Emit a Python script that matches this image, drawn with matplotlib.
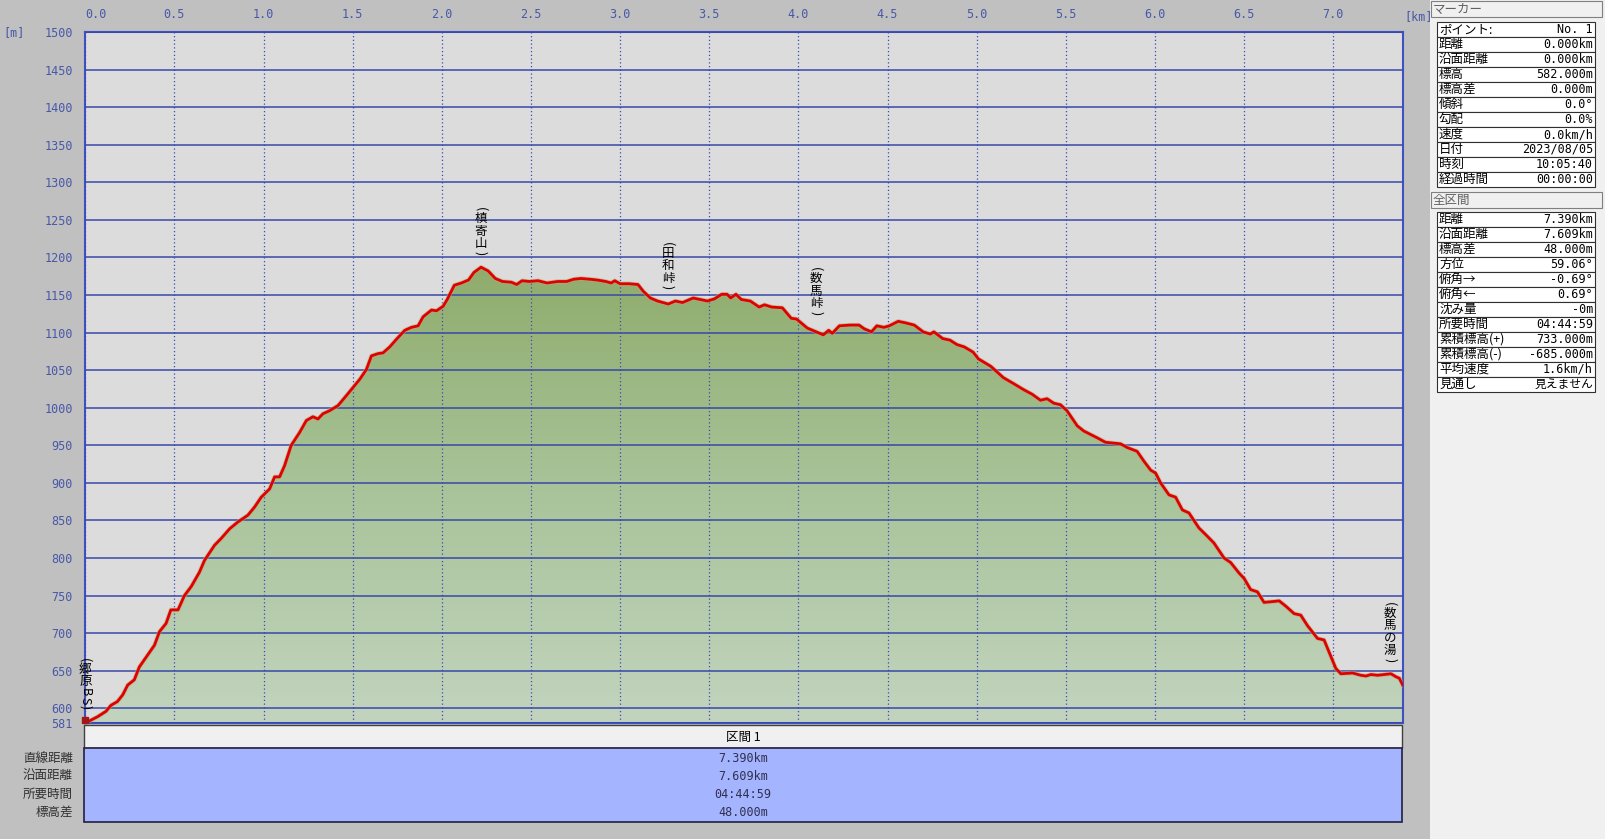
import numpy as np
import matplotlib.pyplot as plt
from matplotlib.colors import LinearSegmentedColormap
from matplotlib.patches import Rectangle, Polygon

plt.rcParams['font.family'] = ['Noto Sans CJK JP', 'DejaVu Sans']
MONO = ['DejaVu Sans Mono', 'Noto Sans CJK JP']

# elevation profile (km, m)
dist_km = [0.0, 0.013, 0.07, 0.116, 0.144, 0.18, 0.21, 0.238, 0.275, 0.303, 0.35, 0.388,
           0.416, 0.453, 0.48, 0.52, 0.556, 0.594, 0.64, 0.669, 0.725, 0.762, 0.81, 0.856,
           0.912, 0.95, 0.987, 1.034, 1.062, 1.09, 1.118, 1.155, 1.202, 1.24, 1.277, 1.305,
           1.333, 1.37, 1.418, 1.464, 1.502, 1.54, 1.577, 1.605, 1.642, 1.67, 1.708, 1.745,
           1.792, 1.83, 1.867, 1.895, 1.942, 1.97, 2.007, 2.03, 2.07, 2.11, 2.15, 2.18,
           2.22, 2.26, 2.30, 2.34, 2.39, 2.42, 2.45, 2.49, 2.54, 2.59, 2.65, 2.70,
           2.74, 2.78, 2.83, 2.87, 2.92, 2.95, 2.97, 3.00, 3.05, 3.10, 3.13, 3.17,
           3.21, 3.27, 3.31, 3.35, 3.41, 3.45, 3.49, 3.53, 3.57, 3.60, 3.62, 3.65,
           3.68, 3.73, 3.78, 3.81, 3.85, 3.91, 3.96, 3.99, 4.05, 4.10, 4.14, 4.17,
           4.19, 4.23, 4.29, 4.34, 4.37, 4.41, 4.44, 4.48, 4.51, 4.56, 4.60, 4.65,
           4.70, 4.74, 4.76, 4.81, 4.85, 4.89, 4.93, 4.98, 5.01, 5.08, 5.15, 5.208,
           5.264, 5.311, 5.358, 5.395, 5.433, 5.47, 5.507, 5.564, 5.601, 5.676, 5.723, 5.807,
           5.845, 5.90, 5.938, 5.976, 6.004, 6.032, 6.079, 6.116, 6.154, 6.191, 6.247, 6.294,
           6.331, 6.388, 6.425, 6.472, 6.50, 6.537, 6.575, 6.612, 6.659, 6.697, 6.734, 6.781,
           6.818, 6.856, 6.912, 6.949, 6.987, 7.015, 7.043, 7.109, 7.155, 7.184, 7.212, 7.249,
           7.286, 7.324, 7.352, 7.371, 7.39]
elev_m = [582, 582, 589, 596, 604, 609, 618, 631, 638, 655, 671, 684,
          702, 713, 731, 731, 750, 762, 781, 797, 817, 826, 839, 848,
          857, 868, 881, 892, 908, 908, 923, 950, 967, 983, 988, 985,
          992, 996, 1003, 1016, 1027, 1038, 1051, 1069, 1072, 1073, 1081, 1091,
          1103, 1107, 1109, 1121, 1130, 1129, 1135, 1144, 1163, 1166, 1170, 1180,
          1187, 1182, 1172, 1168, 1167, 1164, 1169, 1168, 1169, 1166, 1168, 1168,
          1171, 1172, 1171, 1170, 1168, 1166, 1169, 1165, 1165, 1164, 1155, 1146,
          1142, 1138, 1142, 1140, 1146, 1144, 1142, 1145, 1151, 1151, 1146, 1151,
          1144, 1142, 1134, 1137, 1134, 1133, 1119, 1118, 1106, 1101, 1097, 1103,
          1099, 1109, 1110, 1110, 1105, 1101, 1109, 1107, 1109, 1115, 1113, 1110,
          1101, 1098, 1101, 1092, 1090, 1084, 1081, 1074, 1065, 1055, 1040, 1032,
          1024, 1018, 1010, 1012, 1006, 1004, 996, 976, 969, 960, 954, 952,
          947, 942, 929, 917, 913, 900, 884, 881, 864, 860, 840, 829,
          820, 800, 794, 780, 773, 758, 755, 741, 742, 743, 736, 726,
          724, 710, 693, 691, 669, 653, 646, 647, 644, 643, 645, 644,
          645, 646, 642, 640, 631]

x_ticks = [0.0, 0.5, 1.0, 1.5, 2.0, 2.5, 3.0, 3.5, 4.0, 4.5, 5.0, 5.5, 6.0, 6.5, 7.0]
y_ticks = [581] + list(range(600, 1501, 50))

places = ['(郷原BS)', '(槙寄山)', '(田和峠)', '(数馬峠)', '(数馬の湯)']
place_km = [0.0, 2.217, 3.268, 4.10, 7.32]
place_top = [668, 1268, 1222, 1188, 743]

marker_labels = ['ポイント:', '距離', '沿面距離', '標高', '標高差', '傾斜', '勾配', '速度',
                 '日付', '時刻', '経過時間']
marker_values = ['No. 1', '0.000km', '0.000km', '582.000m', '0.000m', '0.0°', '0.0%',
                 '0.0km/h', '2023/08/05', '10:05:40', '00:00:00']
total_labels = ['距離', '沿面距離', '標高差', '方位', '俯角→', '俯角←', '沈み量', '所要時間',
                '累積標高(+)', '累積標高(-)', '平均速度', '見通し']
total_values = ['7.390km', '7.609km', '48.000m', '59.06°', '-0.69°', '0.69°', '-0m',
                '04:44:59', '733.000m', '-685.000m', '1.6km/h', '見えません']
section_labels = ['直線距離', '沿面距離', '所要時間', '標高差']
section_values = ['7.390km', '7.609km', '04:44:59', '48.000m']

W, H = 1605, 839
fig = plt.figure(figsize=(W / 100, H / 100), dpi=100, facecolor='#c0c0c0')

# background layer in pixel coordinates (panels, tables)
bg = fig.add_axes([0, 0, 1, 1])
bg.set_xlim(0, W)
bg.set_ylim(H, 0)
bg.axis('off')
bg.set_zorder(0)

# right panel
bg.add_patch(Rectangle((1430, 0), W - 1430, H, fc='#f0f0f0', ec='none'))
for top, title in [(1, 'マーカー'), (192, '全区間')]:
    bg.add_patch(Rectangle((1431, top), 171, 16, fc='#f0f0f0', ec='#808080', lw=0.8))
    bg.text(1433, top + 8, title, fontsize=9, color='#606060', va='center', ha='left')


def draw_table(top, labels, values, rh=15.0):
    for i, (lab, val) in enumerate(zip(labels, values)):
        y = top + i * rh
        bg.add_patch(Rectangle((1437, y), 158, rh, fc='white', ec='#303030', lw=0.8))
        bg.text(1439, y + rh / 2, lab, fontsize=9, va='center', ha='left', color='black')
        bg.text(1593, y + rh / 2, val, fontsize=8.5, family=MONO, va='center', ha='right',
                color='black')


draw_table(22, marker_labels, marker_values)
draw_table(212, total_labels, total_values)

# bottom section table
bg.add_patch(Rectangle((84, 725), 1318, 23, fc='#f0f0f0', ec='#404040', lw=1))
bg.add_patch(Rectangle((84, 748), 1318, 74, fc='#a4b4ff', ec='#202040', lw=1.2))
bg.text(743, 737, '区間 1', fontsize=9, ha='center', va='center', color='black')
for i, (lab, val) in enumerate(zip(section_labels, section_values)):
    y = 758 + i * 18
    bg.text(73, y, lab, fontsize=9, ha='right', va='center', color='#303030')
    bg.text(743, y, val, fontsize=8.5, family=MONO, ha='center', va='center', color='#303050')

bg.text(3, 33, '[m]', fontsize=8.5, family=MONO, color='#4858a8', va='center', ha='left')
bg.text(1404, 17, '[km]', fontsize=8.5, family=MONO, color='#4858a8', va='center', ha='left')

# main profile axes
x0, x1, y0, y1 = 85.3, 1402.7, 32.0, 722.6
ax = fig.add_axes([x0 / W, (H - y1) / H, (x1 - x0) / W, (y1 - y0) / H])
ax.set_zorder(2)
ax.set_facecolor('#dcdcdc')

cmap = LinearSegmentedColormap.from_list('fill', ['#c2d4be', '#a9c49a', '#8fac6c'])
grad = np.linspace(0, 1, 256).reshape(-1, 1)
img = ax.imshow(grad, extent=[0, 7.39, 581, 1190], origin='lower', aspect='auto',
                cmap=cmap, zorder=1)
verts = np.column_stack([np.r_[dist_km[0], dist_km, dist_km[-1]],
                         np.r_[581, elev_m, 581]])
poly = Polygon(verts, closed=True, fc='none', ec='none')
ax.add_patch(poly)
img.set_clip_path(poly)

ax.plot(dist_km, elev_m, color='#b8a878', lw=3.2, alpha=0.6, zorder=2.6)
ax.plot(dist_km, elev_m, color='#e00000', lw=2.0, zorder=3)
ax.plot([dist_km[0]], [elev_m[0] + 3], marker='s', ms=5, color='#a01818', clip_on=False,
        zorder=4)

ax.set_xlim(0, 7.39)
ax.set_ylim(581, 1500)
ax.set_xticks(x_ticks)
ax.set_xticklabels([f'{v:.1f}' for v in x_ticks])
ax.set_yticks(y_ticks)
ax.set_yticklabels([str(v) for v in y_ticks])
ax.xaxis.tick_top()
ax.tick_params(axis='x', length=0, pad=8, labelsize=8.5, labelcolor='#4858a8')
ax.tick_params(axis='y', length=0, pad=9, labelsize=8.5, labelcolor='#4858a8')
for lab in ax.get_xticklabels() + ax.get_yticklabels():
    lab.set_family(MONO)
ax.get_xticklabels()[0].set_horizontalalignment('left')

ax.set_axisbelow(False)
ax.xaxis.grid(True, ls=(0, (1, 2)), color='#3a4ab8', lw=0.9)
ax.yaxis.grid(True, ls='-', color='#3848a8', lw=1.1)
for sp in ax.spines.values():
    sp.set_color('#4050c0')
    sp.set_linewidth(1.5)


def vtext(x, top, text):
    off = 0
    for ch in text:
        if ch in '()':
            step, rot = 6, -90
        elif ch.isascii():
            step, rot = 8, -90
        else:
            step, rot = 12.5, 0
        ax.annotate(ch, xy=(x, top), xytext=(0, -(off + step / 2)), textcoords='offset pixels',
                    ha='center', va='center', rotation=rot, fontsize=9, color='black',
                    zorder=5, annotation_clip=False)
        off += step


for name, km, top in zip(places, place_km, place_top):
    vtext(km, top, name)

fig.savefig('out.png', dpi=100, facecolor=fig.get_facecolor())
